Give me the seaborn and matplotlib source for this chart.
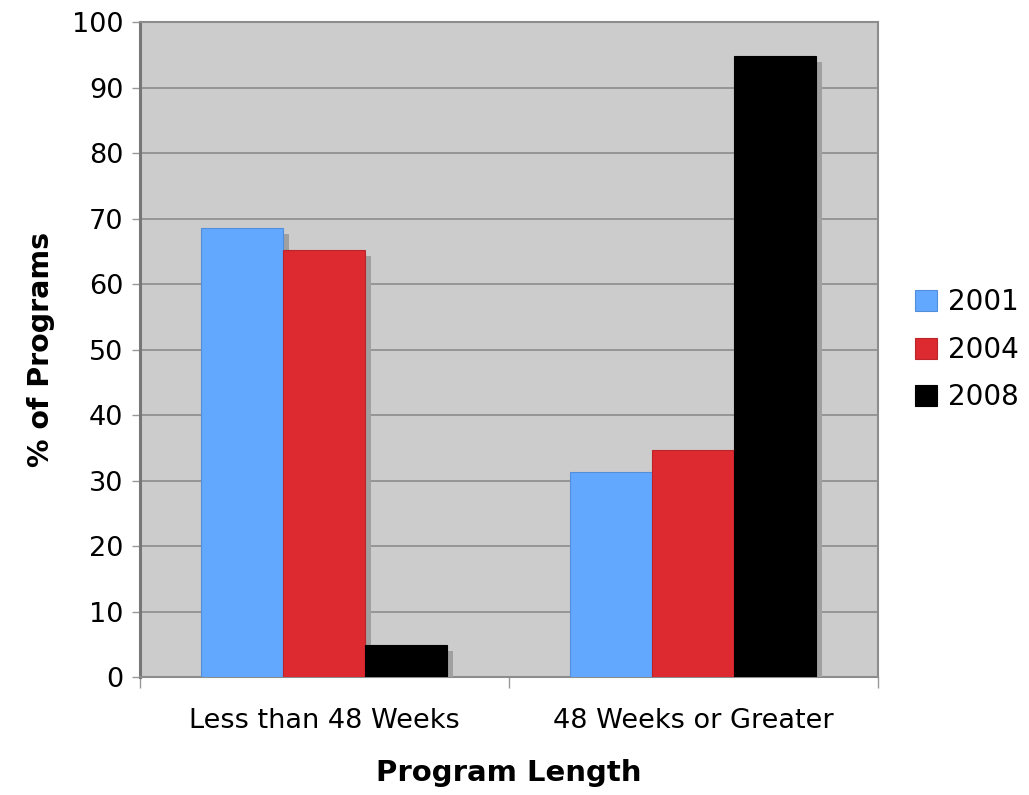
import matplotlib

matplotlib.use('Agg')
import matplotlib.pyplot as plt
import matplotlib.patheffects as pe
from matplotlib.ticker import FixedLocator
import pandas as pd
import seaborn as sns

# Values
categories = ['Less than 48 Weeks', '48 Weeks or Greater']
years = ['2001', '2004', '2008']
pct_2001 = [68.6, 31.4]
pct_2004 = [65.3, 34.7]
pct_2008 = [5.0, 94.9]

colors = {'2001': '#62a8ff', '2004': '#dc2a30', '2008': '#000000'}

df = pd.DataFrame({
    'Program Length': categories * 3,
    'Year': [y for y in years for _ in categories],
    'pct': pct_2001 + pct_2004 + pct_2008,
})

sns.set_theme(style='white')
plt.rcParams['font.family'] = ['DejaVu Sans']
plt.rcParams['text.color'] = 'black'
plt.rcParams['axes.labelcolor'] = 'black'
plt.rcParams['xtick.color'] = 'black'
plt.rcParams['ytick.color'] = 'black'

fig = plt.figure(figsize=(10.29, 7.95), dpi=100)
ax = fig.add_axes([0.136, 0.148, 0.717, 0.824])
ax.set_facecolor('#cccccc')

sns.barplot(data=df, x='Program Length', y='pct', hue='Year',
            palette=colors, saturation=1, width=0.667, gap=0, ax=ax,
            zorder=3, linewidth=0.8)

for patch in ax.patches:
    fc = patch.get_facecolor()
    patch.set_edgecolor(tuple(c * 0.85 for c in fc[:3]) + (1,))
    patch.set_path_effects([
        pe.SimplePatchShadow(offset=(4.3, -4.3), shadow_rgbFace='#a0a0a0',
                             alpha=1.0),
        pe.Normal(),
    ])

ax.set_ylim(0, 100)
ax.set_xlim(-0.5, 1.5)
ax.set_yticks(range(0, 101, 10))
ax.yaxis.grid(True, color='#8c8c8c', linewidth=1.2, zorder=1)
ax.set_axisbelow(True)

ax.tick_params(axis='y', which='major', length=6, width=1, color='#999999',
               labelsize=19.5, pad=6, left=True, labelcolor='black')
ax.tick_params(axis='x', which='major', length=0, labelsize=19.5, pad=22,
               labelcolor='black')
ax.xaxis.set_minor_locator(FixedLocator([-0.5, 0.5, 1.5]))
ax.tick_params(axis='x', which='minor', length=8, width=1, color='#999999',
               bottom=True)

for side in ['top', 'right', 'bottom']:
    ax.spines[side].set_color('#8c8c8c')
    ax.spines[side].set_linewidth(1.5)
ax.spines['left'].set_color('#777777')
ax.spines['left'].set_linewidth(2.2)

ax.set_xlabel('Program Length', fontsize=21, fontweight='bold', labelpad=18)
ax.set_ylabel('% of Programs', fontsize=20.5, fontweight='bold', labelpad=12)

handles, labels = ax.get_legend_handles_labels()
for h in handles:
    h.set_path_effects([])
ax.legend(handles, labels, loc='center left', bbox_to_anchor=(1.035, 0.5),
          frameon=False, fontsize=20, handlelength=0.8, handleheight=0.8,
          handletextpad=0.4, labelspacing=0.7, borderaxespad=0)

fig.savefig('out.png', dpi=100)
